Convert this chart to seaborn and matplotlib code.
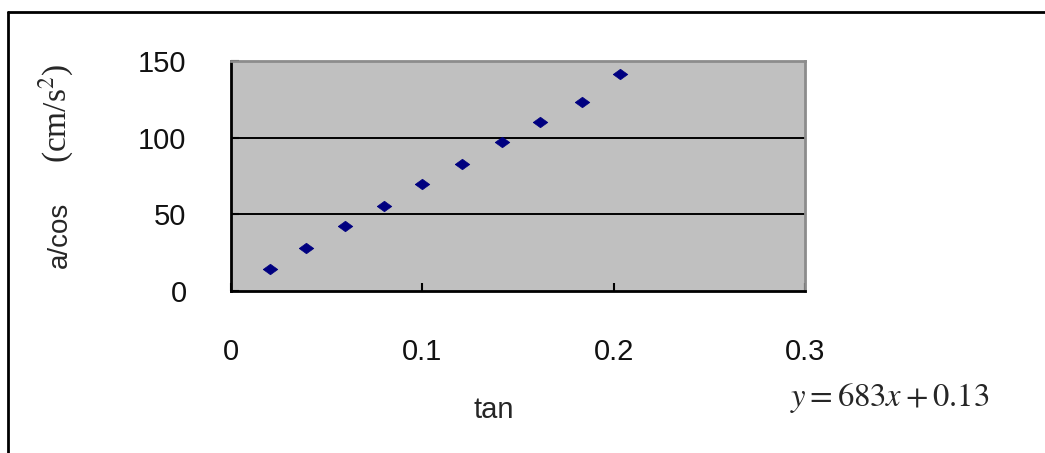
import matplotlib
matplotlib.use("Agg")
import matplotlib.pyplot as plt
import numpy as np
import pandas as pd
import seaborn as sns
from matplotlib.lines import Line2D


# tan(theta) vs a/cos(theta)
tan_vals = [0.0204, 0.0392, 0.0596, 0.0798, 0.0998, 0.1207, 0.1417, 0.1617, 0.1835, 0.2034]
acc_vals = [14.3, 28.3, 42.2, 55.2, 69.6, 82.6, 97.0, 110.4, 123.1, 141.3]
x_ticks = [0, 0.1, 0.2, 0.3]
x_ticklabels = ["0", "0.1", "0.2", "0.3"]
y_ticks = [0, 50, 100, 150]
y_ticklabels = ["0", "50", "100", "150"]
fit_text = r"$y = 683x + 0.13$"

df = pd.DataFrame({"tan": tan_vals, "acc": acc_vals})

sns.set_theme(style="white")
plt.rcParams["font.family"] = ["Liberation Sans", "DejaVu Sans"]
plt.rcParams["mathtext.fontset"] = "stix"

fig = plt.figure(figsize=(10.45, 4.53), dpi=100)
ax = fig.add_axes([231 / 1045, 1 - 291 / 453, 574 / 1045, 230 / 453])
ax.set_facecolor("#C0C0C0")

# flattened diamond like the excel marker
diamond = [(-1, 0), (0, 0.72), (1, 0), (0, -0.72), (-1, 0)]
sns.scatterplot(data=df, x="tan", y="acc", ax=ax, marker=diamond, s=110,
                color="#000080", edgecolor="#000080", linewidth=0.5, zorder=3)

ax.set_xlim(0, 0.3)
ax.set_ylim(0, 150)
ax.set_xticks(x_ticks)
ax.set_xticklabels(x_ticklabels)
ax.set_yticks(y_ticks)
ax.set_yticklabels(y_ticklabels)
ax.set_xlabel("")
ax.set_ylabel("")

for y in y_ticks[1:-1]:
    ax.axhline(y, color="black", lw=1.4, zorder=1)

ax.tick_params(axis="both", direction="in", length=6, width=1.5, colors="black",
               labelsize=21, labelcolor="#111111")
ax.tick_params(axis="x", pad=34, top=False, bottom=True)
ax.tick_params(axis="y", pad=32, left=True, right=False)

for side in ["left", "bottom"]:
    ax.spines[side].set_color("black")
    ax.spines[side].set_linewidth(2)
for side in ["top", "right"]:
    ax.spines[side].set_color("#8C8C8C")
    ax.spines[side].set_linewidth(2)

# axis titles
fig.text(494 / 1045, 1 - 410 / 453, "tan", ha="center", va="center", fontsize=21)
fig.text(60 / 1045, 1 - 235 / 453, "a/cos", ha="center", va="center",
         rotation=90, fontsize=20)
fig.text(56 / 1045, 1 - 113 / 453, r"(cm/s$^2$)", ha="center", va="center",
         rotation=90, fontsize=24, family=["Liberation Serif", "DejaVu Serif"])

fig.text(790 / 1045, 1 - 398 / 453, fit_text, ha="left", va="center", fontsize=23.5)

# outer frame: top and left edges only
fig.add_artist(Line2D([8 / 1045, 1.0], [1 - 12 / 453, 1 - 12 / 453],
                      transform=fig.transFigure, color="black", lw=2))
fig.add_artist(Line2D([8 / 1045, 8 / 1045], [0, 1 - 12 / 453],
                      transform=fig.transFigure, color="black", lw=2))

fig.savefig("out.png", dpi=100, facecolor="white")
